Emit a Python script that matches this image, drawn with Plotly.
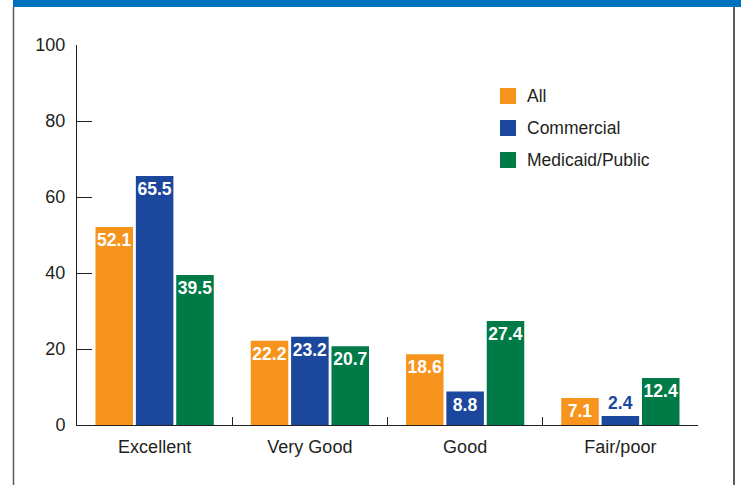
import plotly.graph_objects as go

categories = ["Excellent", "Very Good", "Good", "Fair/poor"]
series_names = ["All", "Commercial", "Medicaid/Public"]
all_vals = [52.1, 22.2, 18.6, 7.1]
commercial_vals = [65.5, 23.2, 8.8, 2.4]
medicaid_vals = [39.5, 20.7, 27.4, 12.4]
y_ticks = [0, 20, 40, 60, 80, 100]

colors = ["#F7941D", "#1B479C", "#007A46"]
values = [all_vals, commercial_vals, medicaid_vals]

W, H = 741, 485
L, R, T, B = 77, 43, 45, 60
pw, ph = W - L - R, H - T - B

def xp(px):
    return (px - L) / pw

def yp(py):
    return (H - B - py) / ph

font_family = "Liberation Sans, Arial, sans-serif"
text_col = "#231F20"

fig = go.Figure()
for name, vals, col in zip(series_names, values, colors):
    positions = ["inside" if v > 5 else "outside" for v in vals]
    fig.add_trace(go.Bar(
        x=categories, y=vals, name=name,
        marker=dict(color=col, line=dict(width=0)),
        text=[f"{v:.1f}" for v in vals],
        textposition=positions,
        insidetextanchor="end",
        textangle=0,
        insidetextfont=dict(color="white", size=17.5, family=font_family, weight="bold"),
        outsidetextfont=dict(color=col, size=17.5, family=font_family, weight="bold"),
        cliponaxis=False,
        showlegend=False,
    ))

shapes = [
    dict(type="rect", xref="paper", yref="paper", x0=xp(13), x1=xp(741), y0=yp(7), y1=yp(0),
         fillcolor="#0072BC", line=dict(width=0), layer="above"),
    dict(type="line", xref="paper", yref="paper", x0=xp(13.5), x1=xp(13.5), y0=yp(485), y1=yp(7),
         line=dict(color="#5a5a5a", width=1.5)),
    dict(type="line", xref="paper", yref="paper", x0=xp(734), x1=xp(734), y0=yp(485), y1=yp(7),
         line=dict(color="#5a5a5a", width=2)),
]

annotations = []
legend_rows = [96, 128, 160]
for name, col, cy in zip(series_names, colors, legend_rows):
    shapes.append(dict(type="rect", xref="paper", yref="paper",
                       x0=xp(500), x1=xp(516), y0=yp(cy + 8), y1=yp(cy - 8),
                       fillcolor=col, line=dict(width=0)))
    annotations.append(dict(xref="paper", yref="paper", x=xp(525), y=yp(cy),
                            xanchor="left", yanchor="middle", text=name, showarrow=False,
                            font=dict(size=17.5, color=text_col, family=font_family)))

fig.update_layout(
    width=W, height=H,
    margin=dict(l=L, r=R, t=T, b=B, pad=0),
    paper_bgcolor="white", plot_bgcolor="white",
    barmode="group", bargap=0.22, bargroupgap=0.07,
    font=dict(family=font_family, color=text_col, size=18),
    uniformtext=dict(minsize=17.5, mode="show"),
    showlegend=False,
    shapes=shapes,
    annotations=annotations,
    xaxis=dict(showline=True, linecolor=text_col, linewidth=1, ticks="inside", ticklen=8,
               tickcolor=text_col, tickson="boundaries", showgrid=False, zeroline=False,
               ticklabelstandoff=5, tickfont=dict(size=18)),
    yaxis=dict(range=[0, 100], tickvals=y_ticks, showline=True, linecolor=text_col, linewidth=1,
               ticks="inside", ticklen=15, tickcolor=text_col, showgrid=False, zeroline=False,
               ticklabelstandoff=7, tickfont=dict(size=18)),
)

fig.write_html("out.html", config={"displayModeBar": False},
               post_script="document.body.style.margin='0';document.body.style.overflow='hidden';")
